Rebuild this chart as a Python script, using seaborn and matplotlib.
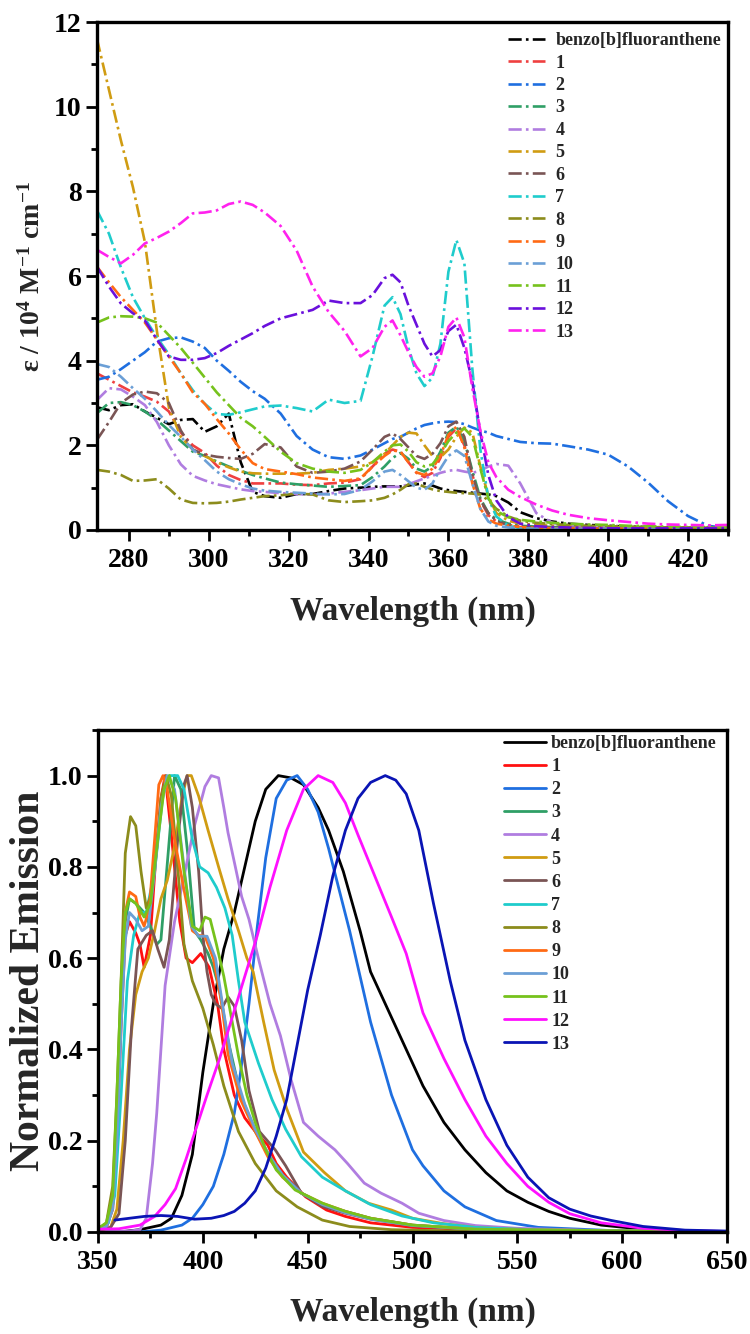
import numpy as np
import pandas as pd
import matplotlib
matplotlib.use("Agg")
import matplotlib.pyplot as plt
from matplotlib.ticker import MultipleLocator, FormatStrFormatter
import seaborn as sns

# ---------------- absorption data (top) ----------------
abs_wl = [272, 275, 278, 281, 284, 287, 290, 293, 296, 299, 302, 305, 308, 311, 314, 318, 322, 326, 330, 334,
          338, 341, 344, 346, 348, 350, 352, 354, 356, 358, 360, 362, 364, 366, 368, 370, 372, 375, 378, 382,
          386, 390, 395, 400, 405, 410, 415, 420, 425, 430]
abs_bbf = [2.9, 2.83, 2.95, 2.97, 2.8, 2.65, 2.5, 2.6, 2.62, 2.32, 2.45, 2.75, 1.6, 0.9, 0.8, 0.76, 0.85, 0.85, 0.92, 0.98,
           1.0, 1.02, 1.03, 1.03, 1.03, 1.05, 1.08, 1.1, 1.05, 0.98, 0.94, 0.92, 0.9, 0.88, 0.86, 0.84, 0.8, 0.65, 0.42, 0.28,
           0.2, 0.15, 0.12, 0.1, 0.08, 0.07, 0.06, 0.05, 0.05, 0.04]
abs_1 = [3.7, 3.55, 3.4, 3.25, 3.15, 3.03, 2.8, 2.3, 2.0, 1.82, 1.52, 1.3, 1.18, 1.1, 1.1, 1.1, 1.07, 1.06, 1.1, 1.12,
         1.2, 1.5, 1.8, 1.9, 1.85, 1.6, 1.35, 1.25, 1.35, 1.7, 2.2, 2.4, 2.0, 1.3, 0.7, 0.35, 0.2, 0.12, 0.08, 0.06,
         0.05, 0.05, 0.04, 0.04, 0.03, 0.03, 0.03, 0.03, 0.03, 0.03]
abs_2 = [3.55, 3.62, 3.8, 4.0, 4.2, 4.45, 4.53, 4.55, 4.45, 4.3, 4.0, 3.76, 3.5, 3.28, 3.1, 2.75, 2.22, 1.9, 1.72, 1.68,
         1.76, 1.9, 2.05, 2.15, 2.2, 2.3, 2.4, 2.48, 2.52, 2.55, 2.56, 2.55, 2.5, 2.42, 2.35, 2.3, 2.22, 2.15, 2.08, 2.05,
         2.04, 1.98, 1.9, 1.78, 1.5, 1.12, 0.68, 0.33, 0.1, 0.04]
abs_3 = [2.76, 3.0, 3.02, 2.95, 2.8, 2.6, 2.35, 2.1, 1.85, 1.75, 1.62, 1.5, 1.4, 1.3, 1.22, 1.12, 1.08, 1.05, 1.02, 1.04,
         1.06, 1.25, 1.5, 1.7, 1.82, 1.68, 1.45, 1.38, 1.5, 1.85, 2.3, 2.44, 2.1, 1.4, 0.75, 0.4, 0.25, 0.15, 0.1, 0.08,
         0.07, 0.06, 0.05, 0.05, 0.04, 0.04, 0.04, 0.04, 0.03, 0.03]
abs_4 = [3.07, 3.35, 3.32, 3.15, 2.95, 2.55, 2.0, 1.55, 1.28, 1.17, 1.08, 1.02, 0.96, 0.92, 0.9, 0.87, 0.85, 0.83, 0.86, 0.9,
         0.94, 0.98, 1.02, 1.02, 1.02, 1.08, 1.15, 1.22, 1.28, 1.35, 1.4, 1.42, 1.38, 1.35, 1.4, 1.5, 1.56, 1.52, 1.1, 0.4,
         0.17, 0.1, 0.07, 0.06, 0.05, 0.04, 0.04, 0.04, 0.04, 0.04]
abs_5 = [11.6, 10.4, 9.2, 8.1, 6.8, 4.7, 2.9, 2.2, 1.9, 1.75, 1.6, 1.48, 1.38, 1.34, 1.33, 1.33, 1.33, 1.35, 1.42, 1.45,
         1.5, 1.6, 1.8, 2.0, 2.2, 2.3, 2.28, 2.0, 1.75, 1.72, 1.9, 2.2, 2.42, 2.3, 1.5, 0.8, 0.4, 0.22, 0.15, 0.12,
         0.1, 0.09, 0.08, 0.07, 0.06, 0.06, 0.05, 0.05, 0.05, 0.05]
abs_6 = [2.13, 2.55, 3.0, 3.2, 3.27, 3.23, 3.0, 2.35, 1.9, 1.78, 1.73, 1.7, 1.68, 1.8, 2.03, 1.95, 1.5, 1.35, 1.38, 1.45,
         1.62, 1.9, 2.2, 2.28, 2.15, 1.95, 1.75, 1.68, 1.8, 2.05, 2.45, 2.56, 2.2, 1.3, 0.7, 0.4, 0.22, 0.12, 0.08, 0.06,
         0.05, 0.05, 0.04, 0.03, 0.03, 0.03, 0.03, 0.03, 0.03, 0.03]
abs_7 = [7.55, 7.0, 6.2, 5.5, 5.0, 4.55, 4.15, 3.7, 3.3, 2.98, 2.74, 2.72, 2.78, 2.85, 2.92, 2.94, 2.88, 2.8, 3.08, 3.0,
         3.05, 4.1, 5.3, 5.5, 5.1, 4.3, 3.7, 3.4, 3.6, 4.4, 6.1, 6.85, 6.3, 3.8, 1.9, 0.75, 0.32, 0.1, 0.04, 0.02,
         0.02, 0.01, 0.01, 0.01, 0.01, 0.01, 0.01, 0.01, 0.01, 0.01]
abs_8 = [1.42, 1.38, 1.3, 1.16, 1.17, 1.2, 0.98, 0.72, 0.64, 0.63, 0.64, 0.67, 0.72, 0.76, 0.8, 0.82, 0.86, 0.84, 0.7, 0.66,
         0.68, 0.7, 0.76, 0.84, 0.95, 1.08, 1.1, 1.02, 0.96, 0.92, 0.9, 0.88, 0.87, 0.86, 0.84, 0.7, 0.5, 0.32, 0.22, 0.17,
         0.14, 0.12, 0.1, 0.09, 0.08, 0.07, 0.06, 0.06, 0.05, 0.05]
abs_9 = [6.22, 5.85, 5.5, 5.2, 4.9, 4.5, 4.1, 3.7, 3.25, 2.98, 2.62, 2.28, 1.9, 1.58, 1.44, 1.38, 1.32, 1.24, 1.2, 1.16,
         1.22, 1.5, 1.75, 1.88, 1.85, 1.6, 1.36, 1.3, 1.45, 1.75, 2.25, 2.44, 1.95, 1.1, 0.5, 0.25, 0.15, 0.1, 0.07, 0.05,
         0.04, 0.04, 0.03, 0.03, 0.03, 0.03, 0.03, 0.03, 0.03, 0.03]
abs_10 = [3.92, 3.85, 3.62, 3.35, 3.1, 2.8, 2.48, 2.2, 1.9, 1.65, 1.38, 1.2, 1.08, 0.98, 0.93, 0.9, 0.88, 0.86, 0.84, 0.85,
          0.95, 1.15, 1.38, 1.42, 1.3, 1.15, 1.0, 0.95, 1.1, 1.45, 1.75, 1.88, 1.75, 1.1, 0.5, 0.2, 0.1, 0.06, 0.04, 0.03,
          0.03, 0.03, 0.03, 0.03, 0.03, 0.03, 0.02, 0.02, 0.02, 0.02]
abs_11 = [4.9, 5.02, 5.05, 5.04, 5.0, 4.9, 4.6, 4.3, 3.95, 3.6, 3.25, 2.95, 2.65, 2.45, 2.2, 1.85, 1.58, 1.45, 1.38, 1.35,
          1.42, 1.6, 1.85, 2.0, 2.02, 1.85, 1.6, 1.5, 1.55, 1.8, 2.1, 2.3, 2.4, 2.2, 1.45, 0.75, 0.45, 0.3, 0.24, 0.2,
          0.17, 0.15, 0.13, 0.12, 0.1, 0.09, 0.08, 0.07, 0.07, 0.06]
abs_12 = [6.22, 5.75, 5.35, 5.12, 4.95, 4.5, 4.1, 4.02, 4.02, 4.06, 4.18, 4.35, 4.5, 4.65, 4.82, 5.0, 5.1, 5.2, 5.42, 5.36,
          5.36, 5.55, 5.95, 6.03, 5.85, 5.3, 4.85, 4.4, 4.1, 4.25, 4.7, 4.85, 4.3, 3.5, 2.3, 1.3, 0.7, 0.3, 0.15, 0.09,
          0.07, 0.06, 0.05, 0.04, 0.04, 0.04, 0.04, 0.04, 0.04, 0.04]
abs_13 = [6.62, 6.45, 6.3, 6.5, 6.77, 6.9, 7.05, 7.25, 7.48, 7.5, 7.55, 7.7, 7.76, 7.68, 7.5, 7.18, 6.6, 5.75, 5.15, 4.7,
          4.1, 4.3, 4.8, 4.95, 4.6, 4.2, 3.85, 3.62, 3.7, 4.1, 4.8, 5.02, 4.55, 3.35, 2.35, 1.6, 1.25, 0.95, 0.78, 0.6,
          0.46, 0.36, 0.28, 0.23, 0.19, 0.15, 0.13, 0.12, 0.11, 0.12]

# ---------------- emission data (bottom): (wavelength, normalized intensity) ----------------
em_bbf = [(350, 0.0), (360, 0.0), (370, 0.005), (380, 0.015), (385, 0.03), (390, 0.08), (395, 0.17), (400, 0.35),
          (405, 0.5), (410, 0.62), (415, 0.7), (420, 0.8), (425, 0.9), (430, 0.97), (436, 1.0), (442, 0.995),
          (448, 0.98), (455, 0.93), (460, 0.88), (467, 0.79), (475, 0.66), (480, 0.57), (487, 0.5), (495, 0.42),
          (505, 0.32), (515, 0.24), (525, 0.18), (535, 0.13), (545, 0.09), (555, 0.065), (565, 0.045), (575, 0.03),
          (590, 0.015), (610, 0.006), (630, 0.002), (650, 0.0)]
em_1 = [(350, 0.005), (354, 0.01), (357, 0.05), (359, 0.2), (361, 0.45), (363, 0.65), (365, 0.68), (368, 0.655),
        (370, 0.63), (372, 0.58), (375, 0.65), (378, 0.85), (380, 0.95), (382, 1.0), (385, 0.87), (389, 0.68),
        (392, 0.6), (395, 0.59), (399, 0.61), (403, 0.58), (407, 0.5), (410, 0.4), (415, 0.3), (420, 0.25),
        (425, 0.22), (431, 0.19), (435, 0.15), (440, 0.12), (449, 0.077), (459, 0.048), (468, 0.034), (480, 0.02),
        (500, 0.01), (530, 0.005), (650, 0.0)]
em_2 = [(350, 0.0), (370, 0.0), (380, 0.004), (390, 0.015), (395, 0.03), (400, 0.06), (405, 0.1), (410, 0.17),
        (415, 0.26), (418, 0.35), (422, 0.5), (426, 0.67), (430, 0.82), (435, 0.95), (440, 0.99), (445, 1.0),
        (450, 0.97), (455, 0.92), (460, 0.84), (465, 0.75), (470, 0.66), (475, 0.56), (480, 0.46), (485, 0.38),
        (490, 0.3), (495, 0.24), (500, 0.18), (505, 0.145), (515, 0.09), (525, 0.055), (540, 0.025), (560, 0.01),
        (600, 0.002), (650, 0.0)]
em_3 = [(350, 0.005), (354, 0.012), (357, 0.06), (359, 0.25), (361, 0.5), (363, 0.68), (365, 0.73), (368, 0.72),
        (372, 0.7), (375, 0.67), (378, 0.63), (380, 0.64), (382, 0.75), (384, 0.86), (386.5, 1.0), (389.5, 0.97),
        (393, 0.82), (396, 0.66), (399, 0.64), (402.5, 0.61), (405, 0.58), (408, 0.53), (412, 0.42), (418, 0.3),
        (425, 0.22), (432, 0.165), (438, 0.125), (447, 0.085), (457, 0.06), (468, 0.045), (480, 0.03), (500, 0.015),
        (530, 0.006), (650, 0.0)]
em_4 = [(350, 0.0), (365, 0.002), (370, 0.005), (373, 0.03), (376, 0.15), (378, 0.26), (380, 0.4), (382, 0.54),
        (386.5, 0.68), (391.5, 0.79), (396, 0.89), (401, 0.976), (404, 1.0), (407.5, 0.995), (410, 0.93),
        (412, 0.875), (415.5, 0.8), (418.5, 0.735), (422, 0.685), (427, 0.59), (432, 0.5), (437, 0.43), (442, 0.335),
        (448, 0.24), (455, 0.21), (463, 0.18), (469, 0.15), (477, 0.107), (485, 0.085), (495, 0.063), (503, 0.041),
        (515, 0.025), (530, 0.014), (550, 0.008), (580, 0.004), (650, 0.0)]
em_5 = [(350, 0.003), (356, 0.01), (359, 0.05), (362, 0.2), (365, 0.4), (368, 0.52), (371, 0.57), (374, 0.6),
        (377, 0.66), (380, 0.73), (383, 0.77), (386.5, 0.845), (390, 0.95), (392.5, 1.0), (394.5, 1.0), (398, 0.955),
        (402.5, 0.88), (407.5, 0.8), (412, 0.73), (417, 0.66), (421, 0.6), (424, 0.57), (429, 0.46), (434, 0.355),
        (440, 0.27), (448, 0.175), (458, 0.13), (468, 0.09), (479, 0.063), (490, 0.048), (500, 0.03), (515, 0.018),
        (530, 0.01), (560, 0.004), (650, 0.0)]
em_6 = [(350, 0.003), (356, 0.01), (360, 0.04), (363, 0.2), (366, 0.45), (369, 0.62), (373, 0.65), (376, 0.66),
        (378.5, 0.62), (381.5, 0.58), (384, 0.64), (386, 0.75), (388, 0.86), (391, 0.98), (392.5, 1.0), (395, 0.93),
        (398, 0.79), (400, 0.65), (402, 0.57), (404, 0.52), (406, 0.5), (409, 0.49), (412, 0.515), (415, 0.495),
        (418.5, 0.42), (422, 0.31), (427, 0.22), (434.5, 0.18), (439.5, 0.145), (447, 0.085), (457, 0.056),
        (468, 0.041), (480, 0.028), (500, 0.014), (530, 0.005), (650, 0.0)]
em_7 = [(350, 0.005), (355, 0.02), (358, 0.08), (361, 0.3), (364, 0.55), (367, 0.65), (370, 0.7), (373, 0.7),
        (377, 0.79), (381, 0.96), (384, 1.0), (388, 1.0), (391, 0.97), (395, 0.86), (398.5, 0.8), (402.5, 0.787),
        (406.5, 0.755), (410.5, 0.71), (414, 0.65), (417, 0.55), (420, 0.46), (426.5, 0.37), (433, 0.29),
        (439.5, 0.225), (447, 0.165), (457, 0.12), (468, 0.09), (480, 0.06), (495, 0.035), (510, 0.02), (530, 0.01),
        (560, 0.004), (650, 0.0)]
em_8 = [(350, 0.005), (354, 0.02), (357, 0.1), (359, 0.3), (361, 0.55), (363, 0.83), (365.5, 0.91), (368, 0.89),
        (370.5, 0.79), (373, 0.71), (375.5, 0.74), (378, 0.84), (380, 0.95), (382.5, 1.0), (385, 0.955), (388, 0.8),
        (391, 0.63), (395, 0.55), (400, 0.49), (405, 0.41), (410, 0.32), (417, 0.22), (425, 0.15), (435, 0.09),
        (445, 0.055), (457, 0.026), (470, 0.012), (490, 0.005), (520, 0.002), (650, 0.0)]
em_9 = [(350, 0.005), (354, 0.015), (357, 0.07), (359, 0.25), (361, 0.5), (363, 0.7), (365, 0.745), (368, 0.735),
        (370, 0.69), (372, 0.67), (374.5, 0.71), (377, 0.86), (379, 0.98), (381, 1.0), (383, 0.97), (386.5, 0.86),
        (391, 0.75), (395, 0.66), (398, 0.65), (401, 0.648), (405, 0.6), (409, 0.5), (412, 0.39), (418, 0.29),
        (425, 0.22), (431, 0.165), (438, 0.12), (447, 0.085), (457, 0.063), (468, 0.045), (480, 0.03), (500, 0.015),
        (530, 0.006), (650, 0.0)]
em_10 = [(350, 0.005), (354, 0.012), (357, 0.05), (359, 0.2), (361, 0.45), (363, 0.64), (365, 0.7), (368, 0.685),
         (371, 0.66), (374, 0.67), (377, 0.79), (380, 0.93), (383, 1.0), (386.5, 0.97), (390.5, 0.82), (394.5, 0.67),
         (398, 0.648), (402, 0.648), (406, 0.6), (410, 0.48), (414, 0.37), (420, 0.28), (425, 0.225), (432, 0.165),
         (438, 0.125), (447, 0.085), (457, 0.06), (468, 0.042), (480, 0.028), (500, 0.014), (530, 0.006), (650, 0.0)]
em_11 = [(350, 0.008), (354, 0.02), (357, 0.08), (359, 0.3), (361, 0.55), (363, 0.7), (365, 0.73), (368, 0.72),
         (372, 0.69), (375, 0.72), (378.5, 0.86), (381.5, 0.97), (384, 1.0), (387, 0.95), (391, 0.79), (395, 0.67),
         (398.5, 0.66), (401, 0.69), (403.5, 0.685), (406.5, 0.63), (410, 0.56), (414, 0.46), (417, 0.385),
         (421, 0.3), (425, 0.24), (430, 0.18), (435, 0.136), (444, 0.092), (457, 0.063), (468, 0.045), (480, 0.03),
         (500, 0.015), (530, 0.006), (650, 0.0)]
em_12 = [(350, 0.006), (360, 0.007), (370, 0.015), (377, 0.034), (382, 0.06), (387, 0.095), (392, 0.16), (397, 0.23),
         (402, 0.3), (408, 0.38), (414, 0.47), (420, 0.56), (426, 0.65), (432, 0.755), (440, 0.88), (448, 0.97),
         (455, 1.0), (462, 0.985), (468, 0.94), (474, 0.87), (482, 0.78), (490, 0.69), (497, 0.61), (505, 0.48),
         (515, 0.38), (525, 0.29), (535, 0.21), (545, 0.15), (555, 0.1), (565, 0.065), (575, 0.04), (590, 0.02),
         (610, 0.008), (630, 0.003), (650, 0.001)]
em_13 = [(358, 0.026), (365, 0.03), (372, 0.034), (380, 0.036), (388, 0.034), (396, 0.028), (404, 0.03), (410, 0.036),
         (415, 0.045), (420, 0.063), (425, 0.09), (430, 0.14), (435, 0.21), (440, 0.29), (445, 0.41), (450, 0.53),
         (456, 0.65), (462, 0.78), (468, 0.88), (474, 0.95), (480, 0.985), (487, 1.0), (492, 0.99), (497, 0.96),
         (503, 0.88), (510, 0.72), (518, 0.55), (525, 0.42), (535, 0.29), (545, 0.19), (555, 0.12), (565, 0.075),
         (575, 0.05), (585, 0.035), (595, 0.025), (610, 0.012), (630, 0.004), (650, 0.002)]

labels = ["benzo[b]fluoranthene", "1", "2", "3", "4", "5", "6", "7", "8", "9", "10", "11", "12", "13"]
abs_series = [abs_bbf, abs_1, abs_2, abs_3, abs_4, abs_5, abs_6, abs_7, abs_8, abs_9, abs_10, abs_11, abs_12, abs_13]
em_series = [em_bbf, em_1, em_2, em_3, em_4, em_5, em_6, em_7, em_8, em_9, em_10, em_11, em_12, em_13]

abs_colors = ["#000000", "#ef4040", "#1f6fe0", "#2f9f66", "#b07de0", "#d09c12", "#7a5555", "#1fcccc",
              "#8c8c1c", "#ff6a14", "#6b9fd6", "#76c21c", "#6a10dc", "#ff22ee"]
em_colors = ["#000000", "#ff1010", "#1f6fe0", "#2f9f66", "#b07de0", "#d09c12", "#7a5555", "#1fcccc",
             "#8c8c1c", "#ff6a14", "#6b9fd6", "#76c21c", "#ff10ff", "#0a14b4"]

# ---------------- style ----------------
sns.set_theme(style="white")
plt.rcParams['font.family'] = ['Liberation Serif', 'DejaVu Serif']
plt.rcParams['font.weight'] = 'bold'
plt.rcParams['axes.labelweight'] = 'bold'
plt.rcParams['mathtext.fontset'] = 'custom'
plt.rcParams['mathtext.rm'] = 'Liberation Serif:bold'
plt.rcParams['mathtext.bf'] = 'Liberation Serif:bold'
plt.rcParams['mathtext.it'] = 'Liberation Serif:bold'
plt.rcParams['mathtext.default'] = 'bf'

fig = plt.figure(figsize=(7.5, 13.34), dpi=100)
ax1 = fig.add_axes([0.1293, 0.6027, 0.8413, 0.3808])
ax2 = fig.add_axes([0.1307, 0.0765, 0.8386, 0.3763])

# top: absorption
abs_df = pd.DataFrame({lab: vals for lab, vals in zip(labels, abs_series)})
abs_df["wl"] = abs_wl
abs_long = abs_df.melt(id_vars="wl", var_name="compound", value_name="eps")
for lab, col in zip(labels, abs_colors):
    sub = abs_long[abs_long["compound"] == lab]
    sns.lineplot(data=sub, x="wl", y="eps", color=col, lw=1.9, ax=ax1, label=lab,
                 linestyle=(0, (5, 1.6, 1, 1.6)))

# bottom: emission
em_rows = []
for lab, ser in zip(labels, em_series):
    for w, v in ser:
        em_rows.append((lab, w, v))
em_long = pd.DataFrame(em_rows, columns=["compound", "wl", "em"])
for lab, col in zip(labels, em_colors):
    sub = em_long[em_long["compound"] == lab]
    sns.lineplot(data=sub, x="wl", y="em", color=col, lw=2.0, ax=ax2, label=lab)

for ax in (ax1, ax2):
    for s in ax.spines.values():
        s.set_visible(True)
        s.set_color("black")
        s.set_linewidth(2.4)
    ax.tick_params(which="major", direction="out", length=8, width=2, colors="black",
                   labelsize=20, bottom=True, left=True, top=False, right=False)
    ax.tick_params(which="minor", direction="out", length=4, width=2, colors="black",
                   bottom=True, left=True, top=False, right=False)
    ax.tick_params(axis="x", which="major", pad=5)
    ax.tick_params(axis="y", which="major", pad=3)

ax1.set_xlim(272, 430)
ax1.set_ylim(0, 12)
ax1.xaxis.set_major_locator(MultipleLocator(20))
ax1.xaxis.set_minor_locator(MultipleLocator(10))
ax1.yaxis.set_major_locator(MultipleLocator(2))
ax1.yaxis.set_minor_locator(MultipleLocator(1))
ax1.set_xlabel("Wavelength (nm)", fontsize=24, fontweight="bold", labelpad=16)
ax1.set_ylabel(r"ε / 10$^{4}$ M$^{-1}$ cm$^{-1}$", fontsize=20, fontweight="bold", labelpad=6)

ax2.set_xlim(350, 650)
ax2.set_ylim(0, 1.1)
ax2.xaxis.set_major_locator(MultipleLocator(50))
ax2.xaxis.set_minor_locator(MultipleLocator(25))
ax2.yaxis.set_major_locator(MultipleLocator(0.2))
ax2.yaxis.set_minor_locator(MultipleLocator(0.1))
ax2.yaxis.set_major_formatter(FormatStrFormatter("%.1f"))
ax2.set_xlabel("Wavelength (nm)", fontsize=24, fontweight="bold", labelpad=16)
ax2.set_ylabel("Normalized Emission", fontsize=30, fontweight="bold", labelpad=0)

h1, l1 = ax1.get_legend_handles_labels()
ax1.legend(h1, l1, loc="upper left", bbox_to_anchor=(0.652, 0.98), frameon=False,
           prop={"weight": "bold", "size": 13}, handlelength=2.05, handletextpad=0.55,
           labelspacing=0.3, borderaxespad=0, borderpad=0)
h2, l2 = ax2.get_legend_handles_labels()
ax2.legend(h2, l2, loc="upper left", bbox_to_anchor=(0.645, 0.99), frameon=False,
           prop={"weight": "bold", "size": 13}, handlelength=2.35, handletextpad=0.28,
           labelspacing=0.34, borderaxespad=0, borderpad=0)

fig.savefig("out.png", dpi=100)
